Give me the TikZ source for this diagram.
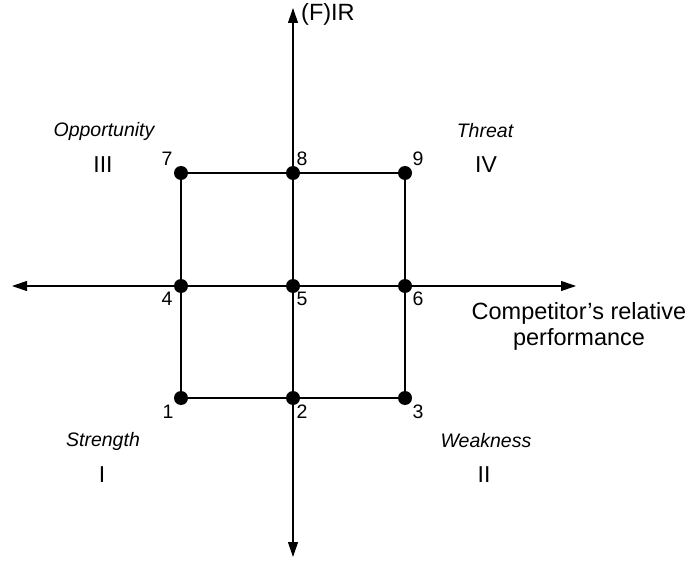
\documentclass[tikz,border=0pt]{standalone}
\usepackage{fontspec}
\setmainfont{Liberation Sans}
\usetikzlibrary{arrows.meta}
\begin{document}
\begin{tikzpicture}[x=1pt,y=-1pt,
  axis/.style={line width=1.1pt,-{Triangle[length=15pt,width=10pt]}},
  grid/.style={line width=1.1pt},
  pt/.style={circle,fill=black,inner sep=0pt,minimum size=14pt},
  num/.style={font=\fontsize{19.5}{22}\selectfont,inner sep=0pt},
  quad/.style={font=\fontsize{19.5}{22}\selectfont\itshape,inner sep=0pt},
  roman/.style={font=\fontsize{23}{26}\selectfont,inner sep=0pt},
  lbl/.style={font=\fontsize{23.5}{26}\selectfont,inner sep=0pt,align=center}]
\useasboundingbox (0,0) rectangle (688,569);
% axis ends
\coordinate (top) at (293,8);
\coordinate (bottom) at (293,557);
\coordinate (left) at (12,286);
\coordinate (right) at (576,286);
\coordinate (vmid) at (293,286);
% grid points
\node[pt] (p1) at (181,398) {};
\node[pt] (p2) at (293,398) {};
\node[pt] (p3) at (405,398) {};
\node[pt] (p4) at (181,286) {};
\node[pt] (p5) at (293,286) {};
\node[pt] (p6) at (405,286) {};
\node[pt] (p7) at (181,173) {};
\node[pt] (p8) at (293,173) {};
\node[pt] (p9) at (405,173) {};
% axes
\draw[axis] (vmid) -- (top);
\draw[axis] (vmid) -- (bottom);
\draw[axis] (vmid) -- (left);
\draw[axis] (vmid) -- (right);
% square
\draw[grid] (p7.center) -- (p9.center) -- (p3.center) -- (p1.center) -- cycle;
% point labels
\node[num] (n7) at (167,159) {7};
\node[num] (n8) at (302,159) {8};
\node[num] (n9) at (418,159) {9};
\node[num] (n4) at (167,299) {4};
\node[num] (n5) at (302,299) {5};
\node[num] (n6) at (418,299) {6};
\node[num] (n1) at (168,412) {1};
\node[num] (n2) at (302,412) {2};
\node[num] (n3) at (418,412) {3};
% quadrant labels
\node[quad] (qIII) at (104,131) {Opportunity};
\node[roman] (rIII) at (103,165) {III};
\node[quad] (qIV) at (485,131) {Threat};
\node[roman] (rIV) at (486,165) {IV};
\node[quad] (qI) at (103,441) {Strength};
\node[roman] (rI) at (102,475) {I};
\node[quad] (qII) at (486,441) {Weakness};
\node[roman] (rII) at (484,475) {II};
% axis titles
\node[lbl,anchor=west] (ytitle) at (301,14) {(F)IR};
\node[lbl] (xtitle) at (579,326) {Competitor’s relative\\performance};
\end{tikzpicture}
\end{document}
